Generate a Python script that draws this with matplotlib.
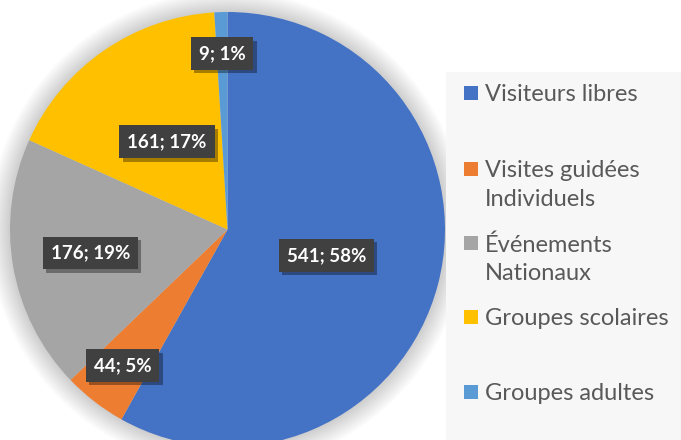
import matplotlib
matplotlib.use("Agg")
import matplotlib.pyplot as plt
import matplotlib.patheffects as pe
from matplotlib.patches import Rectangle, Circle
import numpy as np

plt.rcParams['font.family'] = ['Lato', 'DejaVu Sans']

# Data
categories = ["Visiteurs libres", "Visites guidées\nIndividuels", "Événements\nNationaux",
              "Groupes scolaires", "Groupes adultes"]
values = [541, 44, 176, 161, 9]
colors = ["#4472C4", "#ED7D31", "#A5A5A5", "#FFC000", "#5B9BD5"]

# label distance from centre for each slice (fraction of radius)
label_dist = [0.47, 0.79, 0.64, 0.49, 0.81]

fig = plt.figure(figsize=(6.81, 4.40), dpi=100)
fig.patch.set_facecolor("white")

# legend background
fig.patches.append(Rectangle((446 / 681, 0), 235 / 681, (440 - 72) / 440,
                             transform=fig.transFigure, facecolor="#f7f7f7",
                             edgecolor="none", zorder=0))

ax = fig.add_axes([10 / 681, -7 / 440, 435 / 681, 435 / 440])

wedges, _ = ax.pie(values, colors=colors, startangle=90, counterclock=False,
                   radius=1, wedgeprops=dict(linewidth=0))
for w in wedges:
    w.set_zorder(2)

ax.set_xlim(-1, 1)
ax.set_ylim(-1, 1)
ax.set_aspect("equal")
ax.axis("off")

# soft glow around the pie
for i in range(12):
    ax.add_patch(Circle((0, 0), 1 + 0.008 * (i + 1), facecolor="black",
                        alpha=0.015, edgecolor="none", zorder=0, clip_on=False))

total = sum(values)
for w, v, d in zip(wedges, values, label_dist):
    ang = np.deg2rad((w.theta1 + w.theta2) / 2)
    x, y = d * np.cos(ang), d * np.sin(ang)
    txt = f"{v}; {round(100 * v / total)}%"
    t = ax.text(x, y, txt, ha="center", va="center", fontsize=13.5, fontweight="bold",
                color="white",
                bbox=dict(boxstyle="square,pad=0.42", facecolor="#404040",
                          edgecolor="none"), zorder=4)
    t.get_bbox_patch().set_path_effects([
        pe.SimplePatchShadow(offset=(2.5, -2.5), shadow_rgbFace="black", alpha=0.35),
        pe.Normal()])

# legend drawn by hand
legend_y = [93, 169, 243, 317, 392]
for lab, c, yy in zip(categories, colors, legend_y):
    fig.patches.append(Rectangle((464 / 681, 1 - (yy + 7) / 440), 14 / 681, 14 / 440,
                                 transform=fig.transFigure, facecolor=c,
                                 edgecolor="none", zorder=2))
    fig.text(485 / 681, 1 - (yy - 9) / 440, lab, ha="left", va="top",
             fontsize=17, color="#595959", linespacing=1.45,
             transform=fig.transFigure)

fig.savefig("out.png", dpi=100)
